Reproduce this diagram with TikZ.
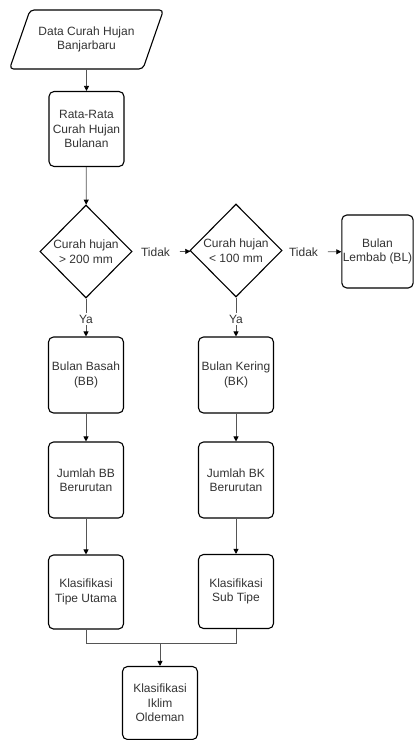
\documentclass[tikz,border=0pt]{standalone}
\usepackage{fontspec}
\setmainfont{Liberation Sans}
\usetikzlibrary{arrows.meta,shapes.geometric}
\definecolor{FlowInk}{HTML}{000000}
\definecolor{FlowText}{HTML}{333333}
\definecolor{FlowLine}{HTML}{555555}

\begin{document}
\begin{tikzpicture}[
	x=1bp, y=-1bp,
	font=\fontsize{12bp}{14.5bp}\selectfont, text=FlowText,
	process/.style={draw=FlowInk, line width=1.1bp, rounded corners=5bp, align=center, minimum width=75bp, minimum height=75bp, inner sep=1bp},
	decision/.style={draw=FlowInk, line width=1.1bp, diamond, align=center, minimum width=92bp, minimum height=93bp, inner sep=0pt},
	inputbox/.style={draw=FlowInk, line width=1.1bp, trapezium, trapezium left angle=60, trapezium right angle=120, trapezium stretches=true, rounded corners=4bp, align=center, minimum width=154bp, minimum height=59bp},
	tag/.style={inner sep=2bp},
	link/.style={-{Triangle[length=5bp,width=5bp,color=FlowInk]}, draw=FlowLine, line width=0.8bp},
	assoc/.style={draw=FlowLine, line width=0.8bp}
]
\useasboundingbox (0,0) rectangle (414,740);

\node[inputbox] (data) at (86.5,39.5) {Data Curah Hujan\\Banjarbaru};
\node[process] (rerata) at (86.5,129) {Rata-Rata\\Curah Hujan\\Bulanan};

\node[decision] (cek1) at (86,251.5) {Curah hujan\\> 200 mm};
\node[decision] (cek2) at (236,250.5) {Curah hujan\\< 100 mm};
\node[process, minimum width=71bp, minimum height=73bp] (lembab) at (377.5,251.5) {Bulan\\Lembab (BL)};

\node[tag, outer xsep=8bp] (tidak1) at (155.5,252) {Tidak};
\node[tag, outer xsep=8bp] (tidak2) at (303.5,252) {Tidak};
\node[tag] (ya1) at (86,319) {Ya};
\node[tag] (ya2) at (236,319) {Ya};

\node[process, minimum height=76bp] (basah) at (86,375) {Bulan Basah\\(BB)};
\node[process, minimum height=76bp] (kering) at (236,375) {Bulan Kering\\(BK)};
\node[process, minimum height=76bp] (jumlahbb) at (86,480) {Jumlah BB\\Berurutan};
\node[process, minimum height=76bp] (jumlahbk) at (236,480) {Jumlah BK\\Berurutan};
\node[process, minimum height=74bp] (utama) at (86,592) {Klasifikasi\\Tipe Utama};
\node[process, minimum height=74bp] (subtipe) at (236,591.5) {Klasifikasi\\Sub Tipe};
\node[process, minimum height=73bp] (oldeman) at (160,703) {Klasifikasi\\Iklim\\Oldeman};

\coordinate (gabung) at (160,643);

\draw[link] (data) -- (rerata);
\draw[link] (rerata) -- (cek1);
\draw[link] (tidak1) -- (cek2);
\draw[link] (tidak2) -- (lembab);
\draw[assoc] (cek1) -- (ya1);
\draw[assoc] (cek2) -- (ya2);
\draw[link] (ya1) -- (basah);
\draw[link] (ya2) -- (kering);
\draw[link] (basah) -- (jumlahbb);
\draw[link] (kering) -- (jumlahbk);
\draw[link] (jumlahbb) -- (utama);
\draw[link] (jumlahbk) -- (subtipe);
\draw[assoc] (utama) |- (gabung);
\draw[assoc] (subtipe) |- (gabung);
\draw[link] (gabung) -- (oldeman);
\end{tikzpicture}
\end{document}
